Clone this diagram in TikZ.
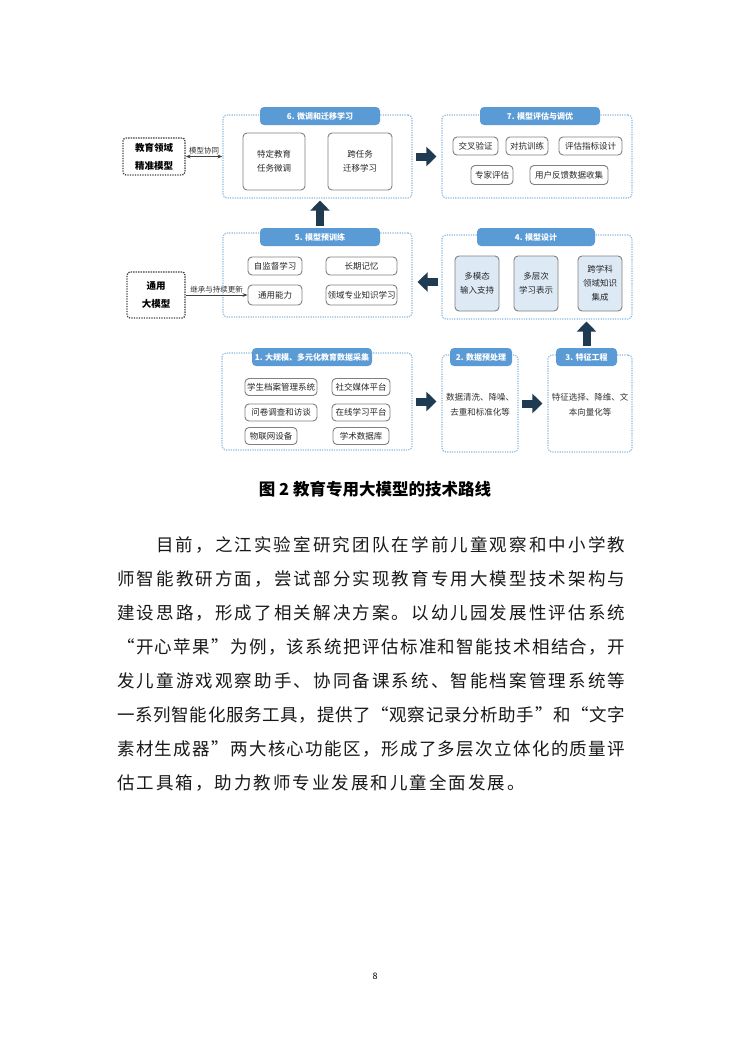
\documentclass[tikz,border=0pt]{standalone}
\usepackage{fontspec}
\setmainfont{Noto Sans CJK SC}
\usetikzlibrary{arrows.meta}
\definecolor{hdrblue}{HTML}{5B9BD5}
\definecolor{grpblue}{HTML}{8DB9DE}
\definecolor{boxgray}{HTML}{808080}
\definecolor{navy}{HTML}{1F3B52}
\definecolor{lightfill}{HTML}{DDEAF6}
\definecolor{inkgray}{HTML}{404040}
% even spacing of the characters of one text line
\newcommand{\charrun}[1]{\charfirst#1\relax}
\def\charfirst#1{#1\charnext}
\def\charnext#1{\ifx#1\relax\else\chargap#1\expandafter\charnext\fi}
\def\chargap{\hskip 0pt plus 1fil}
\tikzset{
  grp/.style={draw=grpblue, line width=1.2pt, dash pattern=on 1.2pt off 1.2pt, rounded corners=4pt},
  hdr/.style={fill=hdrblue, rounded corners=4pt, text=white, font=\bfseries\fontsize{8}{9}\selectfont, minimum height=18pt, inner sep=0pt},
  itm/.style={draw=boxgray, line width=0.9pt, rounded corners=4pt, fill=white, text=black!85, font=\fontsize{8.5}{14}\selectfont, align=center, inner sep=0pt},
  mdl/.style={draw=inkgray, line width=1.3pt, dash pattern=on 1.3pt off 1.2pt, rounded corners=3pt, font=\bfseries\fontsize{9.5}{18}\selectfont, align=center, inner sep=0pt},
  bigarr/.style={draw=navy, line width=8pt, -{Triangle[length=10pt,width=19pt]}},
  thin/.style={draw=inkgray, line width=0.8pt},
  lbl/.style={font=\fontsize{7.5}{9}\selectfont, text=black!80, inner sep=1.5pt},
  body/.style={anchor=west, inner sep=0pt, font=\fontsize{17.5}{20}\selectfont, text=black!90}
}
\begin{document}
\begin{tikzpicture}[x=1pt,y=-1pt]
\useasboundingbox[fill=white] (0,0) rectangle (750,1060);
% stage frames
\node[grp, minimum width=189, minimum height=83] (g6) at (317.5,156.5) {};
\node[grp, minimum width=190, minimum height=83] (g7) at (537,156.5) {};
\node[grp, minimum width=189, minimum height=84] (g5) at (317.5,275) {};
\node[grp, minimum width=190, minimum height=84] (g4) at (537,277) {};
\node[grp, minimum width=190, minimum height=97] (g1) at (317,401.5) {};
\node[grp, minimum width=76, minimum height=97] (g2) at (480,403.5) {};
\node[grp, minimum width=84, minimum height=97] (g3) at (590,403.5) {};
% headers
\node[hdr, minimum width=120] (h6) at (320,116) {6. 微调和迁移学习};
\node[hdr, minimum width=120] (h7) at (540,116) {7. 模型评估与调优};
\node[hdr, minimum width=120] (h5) at (320,237) {5. 模型预训练};
\node[hdr, minimum width=118] (h4) at (536,237) {4. 模型设计};
\node[hdr, minimum width=120] (h1) at (312,357) {1. 大规模、多元化教育数据采集};
\node[hdr, minimum width=62] (h2) at (481,357) {2. 数据预处理};
\node[hdr, minimum width=61] (h3) at (586.5,357) {3. 特征工程};
% 6
\node[itm, minimum width=62, minimum height=57] (a61) at (274,161.5) {特定教育\\任务微调};
\node[itm, minimum width=64, minimum height=57] (a62) at (360,161.5) {跨任务\\迁移学习};
% 7
\node[itm, minimum width=45, minimum height=18] (a71) at (475.5,146) {交叉验证};
\node[itm, minimum width=42, minimum height=18] (a72) at (527,146) {对抗训练};
\node[itm, minimum width=63, minimum height=18] (a73) at (590.5,146) {评估指标设计};
\node[itm, minimum width=42, minimum height=19] (a74) at (492,175) {专家评估};
\node[itm, minimum width=78, minimum height=19] (a75) at (569,175) {用户反馈数据收集};
% 5
\node[itm, minimum width=54, minimum height=18] (a51) at (275,266) {自监督学习};
\node[itm, minimum width=71, minimum height=18] (a52) at (361.5,266) {长期记忆};
\node[itm, minimum width=54, minimum height=20] (a53) at (275,295) {通用能力};
\node[itm, minimum width=71, minimum height=20] (a54) at (361.5,295) {领域专业知识学习};
% 4
\node[itm, fill=lightfill, minimum width=44, minimum height=55] (a41) at (477,283.5) {多模态\\输入支持};
\node[itm, fill=lightfill, minimum width=44, minimum height=55] (a42) at (536,283.5) {多层次\\学习表示};
\node[itm, fill=lightfill, minimum width=44, minimum height=55] (a43) at (600,283.5) {跨学科\\领域知识\\集成};
% 1
\node[itm, minimum width=72, minimum height=17] (a11) at (281,387) {学生档案管理系统};
\node[itm, minimum width=58, minimum height=17] (a12) at (361,387) {社交媒体平台};
\node[itm, minimum width=72, minimum height=17] (a13) at (281,412.5) {问卷调查和访谈};
\node[itm, minimum width=58, minimum height=17] (a14) at (361,412.5) {在线学习平台};
\node[itm, minimum width=52, minimum height=17] (a15) at (271,436) {物联网设备};
\node[itm, minimum width=56, minimum height=17] (a16) at (361,436) {学术数据库};
% 2, 3
\node[lbl, font=\fontsize{8.5}{15}\selectfont, align=center] (t2) at (480,405) {数据清洗、降噪、\\去重和标准化等};
\node[lbl, font=\fontsize{8.5}{15}\selectfont, align=center] (t3) at (590,405) {特征选择、降维、文\\本向量化等};
% models
\node[mdl, minimum width=62, minimum height=37] (m1) at (154,156.5) {教育领域\\精准模型};
\node[mdl, minimum width=58, minimum height=46] (m2) at (156,295) {通用\\大模型};
% arrows
\draw[bigarr, shorten <=3pt, shorten >=5pt] (g6) -- (g7);
\draw[bigarr, shorten <=2pt, shorten >=2pt] (h5.north) -- (h5.north |- g6.south);
\draw[bigarr, shorten <=3pt, shorten >=5pt] ([yshift=-5pt]g4.west) -- ([yshift=-5pt]g4.west -| g5.east);
\draw[bigarr, shorten <=2pt, shorten >=2pt] (h3.north) -- (h3.north |- g4.south);
\draw[bigarr, shorten <=3pt, shorten >=5pt] (g1.east) -- (g1.east -| g2.west);
\draw[bigarr, shorten <=3pt, shorten >=5pt] (g2) -- (g3);
\draw[thin, {Stealth[length=5pt]}-{Stealth[length=5pt]}] (m1) -- (m1 -| g6.west) node[lbl, midway, above] {模型协同};
\draw[thin, -{Stealth[length=5pt]}] (m2) -- (a53) node[lbl, midway, above] {继承与持续更新};
% caption and text
\node[font=\bfseries\fontsize{16.5}{20}\selectfont] (cap) at (375,489) {图 2 教育专用大模型的技术路线};
\node[body] (p1) at (156,545) {\makebox[469pt][s]{\charrun{目前，之江实验室研究团队在学前儿童观察和中小学教}}};
\node[body] (p2) at (117,579) {\makebox[508pt][s]{\charrun{师智能教研方面，尝试部分实现教育专用大模型技术架构与}}};
\node[body] (p3) at (117,613) {\makebox[508pt][s]{\charrun{建设思路，形成了相关解决方案。以幼儿园发展性评估系统}}};
\node[body] (p4) at (117,647) {\makebox[508pt][s]{\charrun{“开心苹果”为例，该系统把评估标准和智能技术相结合，开}}};
\node[body] (p5) at (117,681) {\makebox[508pt][s]{\charrun{发儿童游戏观察助手、协同备课系统、智能档案管理系统等}}};
\node[body] (p6) at (117,715) {\makebox[508pt][s]{\charrun{一系列智能化服务工具，提供了“观察记录分析助手”和“文字}}};
\node[body] (p7) at (117,749) {\makebox[508pt][s]{\charrun{素材生成器”两大核心功能区，形成了多层次立体化的质量评}}};
\node[body] (p8) at (117,783) {\def\chargap{\hskip 2pt}\charrun{估工具箱，助力教师专业发展和儿童全面发展。}};
\node[font=\fontsize{9}{10}\selectfont] (pg) at (375,976) {8};
\end{tikzpicture}
\end{document}
